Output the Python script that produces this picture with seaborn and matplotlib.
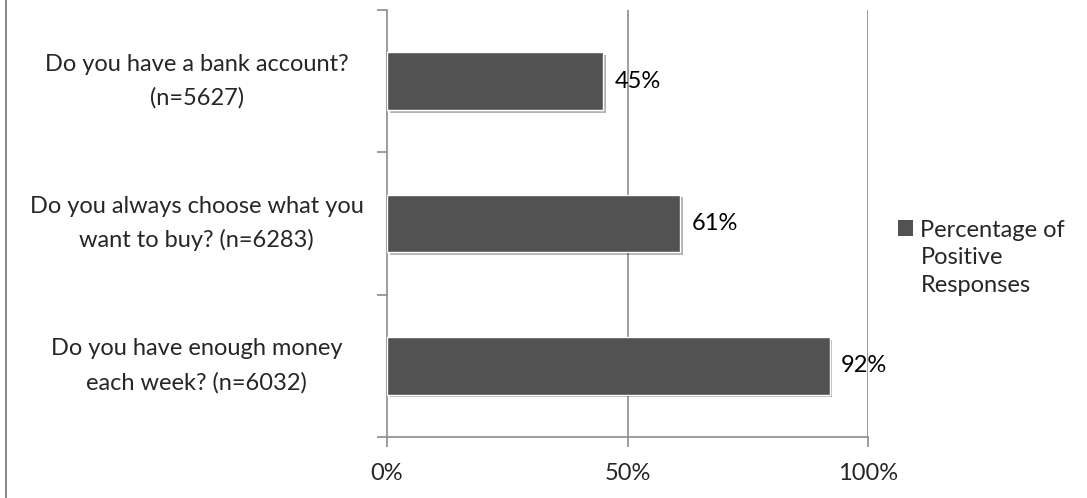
import numpy as np
import pandas as pd
import matplotlib
matplotlib.use("Agg")
import matplotlib.pyplot as plt
import matplotlib.patheffects as pe
from matplotlib.lines import Line2D
from matplotlib.patches import Patch
import seaborn as sns

# data
questions = [
    "Do you have a bank account?\n(n=5627)",
    "Do you always choose what you\nwant to buy? (n=6283)",
    "Do you have enough money\neach week? (n=6032)",
]
positive_pct = [45, 61, 92]
x_ticks = [0, 50, 100]
x_tick_labels = ["0%", "50%", "100%"]
series_name = "Percentage of\nPositive\nResponses"

bar_color = "#525252"
grid_color = "#8c8c8c"
fs = 17

sns.set_style("white")
plt.rcParams["font.family"] = ["Lato", "DejaVu Sans"]

df = pd.DataFrame({"question": questions, "pct": positive_pct})

fig = plt.figure(figsize=(10.87, 4.98), dpi=100)
ax = fig.add_axes([387 / 1087, 61 / 498, 481 / 1087, 427 / 498])

sns.barplot(data=df, y="question", x="pct", orient="h", color=bar_color,
            width=0.405, saturation=1, ax=ax, zorder=3)

# soft drop shadow like the original
for p in ax.patches:
    p.set_path_effects([pe.SimplePatchShadow(offset=(2, -2), alpha=0.3, shadow_rgbFace="black"),
                        pe.Normal()])

# value labels
for i, v in enumerate(positive_pct):
    ax.text(v + 2.4, i, f"{v}%", va="center", ha="left", fontsize=fs, color="black")

ax.set_xlim(0, 100)
ax.set_ylim(2.5, -0.5)

# gridlines only at 50/100
ax.set_xticks(x_ticks)
ax.set_xticklabels(x_tick_labels, fontsize=fs)
for xv in x_ticks[1:]:
    ax.axvline(xv, color=grid_color, lw=1.2, zorder=1)

# y ticks at category borders, labels at centers
ax.set_yticks([-0.5, 0.5, 1.5, 2.5])
ax.set_yticklabels([])
ax.set_yticks(range(len(questions)), minor=True)
ax.set_yticklabels(questions, minor=True, fontsize=fs, ha="center", va="center",
                   multialignment="center", linespacing=1.7)
ax.tick_params(axis="y", which="minor", left=True, length=0, pad=137)
ax.tick_params(axis="y", which="major", left=True, length=7, width=1.2, color=grid_color, direction="out")
ax.tick_params(axis="x", which="major", bottom=True, length=7, width=1.2, color=grid_color,
               direction="out", pad=12)

for s in ["top", "right"]:
    ax.spines[s].set_visible(False)
for s in ["left", "bottom"]:
    ax.spines[s].set_color(grid_color)
    ax.spines[s].set_linewidth(1.2)

ax.set_xlabel("")
ax.set_ylabel("")

handles = [Patch(facecolor=bar_color, edgecolor="none", label=series_name)]
leg = fig.legend(handles=handles, loc="center left", bbox_to_anchor=(898 / 1087, 1 - 258 / 498),
                 frameon=False, fontsize=fs, handlelength=0.65, handleheight=0.65,
                 handletextpad=0.3, borderaxespad=0, borderpad=0)
leg.get_texts()[0].set_linespacing(1.4)
# Excel puts the key square next to the first line
leg.legend_handles[0].set_y(leg.legend_handles[0].get_y() + 21.5)

# left edge of the chart frame
fig.add_artist(Line2D([5.5 / 1087, 5.5 / 1087], [0, 1], color=grid_color, lw=1.5,
                      transform=fig.transFigure))

fig.savefig("out.png", dpi=100)
